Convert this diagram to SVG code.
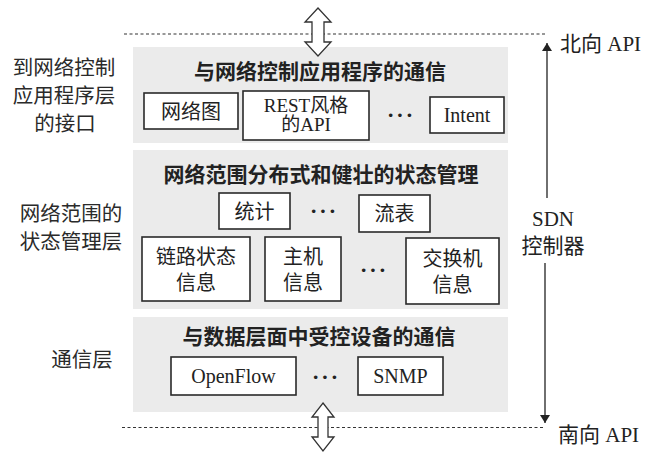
<svg xmlns="http://www.w3.org/2000/svg" width="661" height="458" viewBox="0 0 661 458">
<style>
.panel{fill:#ebebeb;stroke:none}
.box{fill:#ffffff;stroke:#2a2a2a;stroke-width:1.6}
.t{font-family:"Liberation Serif","Noto Sans CJK SC",serif;fill:#222;text-anchor:middle}
.ts{font-family:"Liberation Serif","Noto Sans CJK SC",serif;fill:#222;text-anchor:start}
.cjk{font-family:"Noto Sans CJK SC",sans-serif;fill:#2a2a2a;text-anchor:middle}
.title{font-size:21px;font-weight:bold}
.lbl{font-size:20.5px}
.bx{font-size:20px}
.bx2{font-size:19px}
.dots{font-size:22px;font-weight:bold;letter-spacing:2px}
.dash{stroke:#333;stroke-width:1.2;stroke-dasharray:3 2.5;fill:none}
.dbl{fill:#ffffff;stroke:#333;stroke-width:1.3}
.vline{stroke:#222;stroke-width:1.3;fill:none}
</style>
<defs>
<marker id="ah" viewBox="0 0 8 14" refX="8" refY="7" markerWidth="8" markerHeight="14" markerUnits="userSpaceOnUse" orient="auto">
<path d="M0,2 L8,7 L0,12 Z" fill="#222"/>
</marker>
</defs>
<rect width="661" height="458" fill="#ffffff"/>

<g id="panels">
<rect class="panel" x="133" y="47" width="375" height="96"/>
<rect class="panel" x="133" y="150" width="375" height="159"/>
<rect class="panel" x="133" y="317" width="375" height="95"/>
</g>

<g id="connectors">
<line class="dash" x1="124" y1="34" x2="547" y2="34"/>
<line class="dash" x1="122" y1="427.5" x2="545" y2="427.5"/>
<line class="vline" x1="547" y1="198" x2="547" y2="43" marker-end="url(#ah)"/>
<line class="vline" x1="545" y1="263" x2="545" y2="423" marker-end="url(#ah)"/>
<path id="northbound-arrow" class="dbl" d="M318,8 L331,22 L324,22 L324,42 L331,42 L318,56 L305,42 L312,42 L312,22 L305,22 Z"/>
<path id="southbound-arrow" class="dbl" d="M323,403 L334,417 L328,417 L328,437 L334,437 L323,451 L312,437 L318,437 L318,417 L312,417 Z"/>
</g>

<g id="layer-labels" class="cjk lbl">
<text x="64" y="75">到网络控制</text>
<text x="64" y="103">应用程序层</text>
<text x="65" y="131">的接口</text>
<text x="71" y="221">网络范围的</text>
<text x="71" y="249">状态管理层</text>
<text x="82" y="367">通信层</text>
</g>

<g id="api-labels">
<text class="ts" x="560" y="51" font-size="21">北向 API</text>
<text class="ts" x="558" y="442" font-size="21">南向 API</text>
<text class="t" x="553" y="226" font-size="21">SDN</text>
<text class="t" x="553" y="253" font-size="21">控制器</text>
</g>

<g id="app-layer">
<text class="t title" x="320" y="79">与网络控制应用程序的通信</text>
<g id="node-netgraph"><rect class="box" x="144" y="93" width="94" height="36"/><text class="t bx" x="191" y="119">网络图</text></g>
<g id="node-rest"><rect class="box" x="243" y="91" width="126" height="49"/><text class="t bx2" x="306" y="112">REST风格</text><text class="t bx2" x="306" y="131">的API</text></g>
<text class="t dots" x="401" y="122">···</text>
<g id="node-intent"><rect class="box" x="430" y="97" width="74" height="36"/><text class="t bx" x="467" y="122">Intent</text></g>
</g>

<g id="state-layer">
<text class="t title" x="321" y="182">网络范围分布式和健壮的状态管理</text>
<g id="node-stats"><rect class="box" x="219" y="193" width="71" height="36"/><text class="t bx" x="254.5" y="219">统计</text></g>
<text class="t dots" x="324" y="218">···</text>
<g id="node-flowtable"><rect class="box" x="359" y="195" width="71" height="37"/><text class="t bx" x="394.5" y="221">流表</text></g>
<g id="node-linkstate"><rect class="box" x="142" y="237" width="108" height="64"/><text class="t bx" x="196" y="264">链路状态</text><text class="t bx" x="196" y="290">信息</text></g>
<g id="node-host"><rect class="box" x="265" y="237" width="76" height="64"/><text class="t bx" x="303" y="264">主机</text><text class="t bx" x="303" y="290">信息</text></g>
<text class="t dots" x="374" y="277">···</text>
<g id="node-switch"><rect class="box" x="406" y="238" width="93" height="66"/><text class="t bx" x="452.5" y="266">交换机</text><text class="t bx" x="452.5" y="292">信息</text></g>
</g>

<g id="comm-layer">
<text class="t title" x="319" y="344">与数据层面中受控设备的通信</text>
<g id="node-openflow"><rect class="box" x="171" y="357" width="125" height="38"/><text class="t bx" x="233.5" y="383">OpenFlow</text></g>
<text class="t dots" x="326" y="384">···</text>
<g id="node-snmp"><rect class="box" x="358" y="357" width="85" height="38"/><text class="t bx" x="400.5" y="383">SNMP</text></g>
</g>
</svg>
